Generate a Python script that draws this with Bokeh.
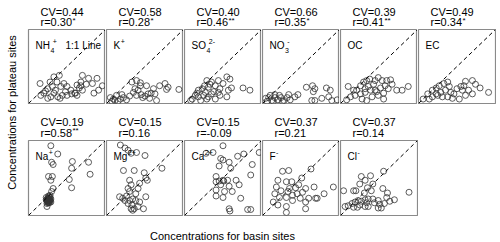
from math import pi
from bokeh.plotting import figure
from bokeh.models import Range1d, Label, Slope
from bokeh.layouts import row, column
from bokeh.embed import file_html
from bokeh.resources import INLINE

# ---------------- data (relative concentrations, 0-1 of panel range) ----------------
species_base = ["NH", "K", "SO", "NO", "OC", "EC", "Na", "Mg", "Ca", "F", "Cl"]
species_sub = ["4", "", "4", "3", "", "", "", "", "", "", ""]
species_sup = ["+", "+", "2-", "-", "", "", "+", "2+", "2+", "-", "-"]
cv_values = ["0.44", "0.58", "0.40", "0.66", "0.39", "0.49", "0.19", "0.15", "0.15", "0.37", "0.37"]
r_values = ["0.30", "0.28", "0.46", "0.35", "0.41", "0.34", "0.58", "0.16", "-0.09", "0.21", "0.14"]
r_stars = ["*", "*", "**", "*", "**", "*", "**", "", "", "", ""]

basin_nh4 = [.15,.28,.33,.40,.25,.31,.35,.42,.46,.50,.55,.61,.66,.68,.70,.78,.89,.83,.96,.91,
             .85,.16,.20,.25,.29,.33,.38,.41,.44,.48,.56,.60,.70,.68,.75,.22,.37,.63,.50,.63]
plateau_nh4 = [.27,.29,.36,.38,.20,.23,.18,.23,.27,.23,.18,.14,.21,.24,.18,.34,.34,.27,.24,.18,
               .14,.11,.14,.07,.09,.14,.09,.07,.11,.16,.13,.14,.38,.29,.26,.17,.29,.11,.11,.25]

basin_k = [.33,.37,.44,.52,.61,.69,.76,.78,.94,.80,.39,.47,.56,.65,.54,.35,.41,.63,
           .05,.09,.13,.18,.11,.22,.07,.15,.20,.26,.39,.44,.45,.50,.58,.30]
plateau_k = [.29,.20,.24,.24,.20,.24,.27,.19,.19,.22,.11,.08,.07,.04,.13,.15,.18,.13,
             .08,.06,.11,.06,.04,.08,.03,.03,.12,.05,.31,.28,.12,.10,.14,.10]

basin_so4 = [.29,.35,.44,.55,.59,.50,.40,.46,.57,.61,.38,.46,.55,.76,.85,.18,.23,.27,.31,.14,
             .10,.18,.25,.31,.35,.21,.16,.29,.40,.44,.08,.33,.26]
plateau_so4 = [.31,.29,.31,.36,.33,.27,.24,.20,.18,.21,.16,.11,.09,.21,.18,.18,.20,.15,.22,.11,
               .06,.09,.11,.09,.13,.04,.14,.06,.06,.15,.04,.26,.24]

basin_no3 = [.04,.08,.12,.16,.20,.24,.28,.32,.36,.10,.22,.42,.34,.46,.16,.57,.65,.68,.66,.68,
             .77,.90,.86,.64,.88,.83,.06,.14,.26,.97]
plateau_no3 = [.07,.08,.04,.08,.05,.08,.04,.08,.05,.11,.11,.09,.12,.12,.12,.22,.24,.20,.16,.04,
               .07,.04,.09,.04,.18,.21,.03,.03,.03,.05]

basin_oc = [.10,.17,.26,.30,.34,.38,.45,.49,.54,.60,.65,.73,.80,.88,.58,.52,.45,.39,.32,.26,
            .19,.13,.08,.28,.41,.49,.56,.62,.67,.36,.43,.32,.47,.21,.34,.56]
plateau_oc = [.23,.18,.24,.29,.31,.33,.31,.35,.31,.31,.32,.18,.18,.23,.24,.21,.18,.18,.15,.13,
              .11,.09,.05,.06,.09,.11,.14,.20,.26,.23,.26,.20,.16,.18,.04,.06]

basin_ec = [.12,.18,.23,.27,.33,.38,.35,.42,.46,.50,.55,.59,.61,.70,.74,.80,.91,.65,.70,.61,
            .57,.53,.31,.25,.18,.14,.06,.38,.44,.29,.40,.23]
plateau_ec = [.13,.18,.21,.24,.27,.29,.18,.15,.13,.20,.23,.24,.30,.31,.26,.21,.15,.18,.13,.11,
              .18,.06,.09,.11,.09,.06,.06,.09,.07,.15,.23,.13]

basin_na = [.29,.38,.30,.32,.57,.78,.56,.80,.26,.31,.29,.53,.56,.32,.30,.28,
            .23,.25,.27,.29,.24,.26,.28,.25,.27,.23,.26,.28,.24,.26,.29,.27,.24,
            .25,.26,.27,.28,.25,.26,.27,.24,.26,.25]
plateau_na = [.93,.82,.71,.68,.72,.71,.63,.55,.52,.52,.47,.48,.37,.36,.32,.27,
              .24,.22,.20,.18,.16,.26,.24,.19,.17,.21,.23,.21,.19,.17,.22,.25,.12,
              .20,.18,.22,.19,.23,.21,.20,.21,.19,.17]

basin_mg = [.18,.24,.28,.32,.39,.50,.72,.22,.36,.49,.51,.53,.30,.32,.43,.28,.41,.30,.38,.51,
            .17,.21,.26,.24,.30,.34,.38,.28,.33,.36,.32,.41,.48,.34,.43]
plateau_mg = [.94,.90,.87,.83,.84,.80,.63,.60,.60,.57,.50,.47,.47,.41,.43,.36,.36,.32,.29,.25,
              .25,.23,.26,.20,.20,.22,.20,.16,.14,.09,.09,.12,.09,.07,.18]

basin_ca = [.50,.28,.37,.47,.50,.69,.77,.97,.58,.60,.45,.88,.86,.41,.50,.45,.51,.56,.41,.67,
            .71,.58,.47,.41,.52,.62,.41,.50,.73,.58,.59,.82,.86]
plateau_ca = [.93,.83,.84,.76,.74,.79,.82,.84,.71,.63,.66,.68,.54,.52,.47,.46,.46,.47,.45,.47,
              .41,.39,.41,.34,.32,.32,.26,.24,.23,.09,.06,.08,.08]

basin_f = [.26,.34,.63,.20,.31,.38,.47,.51,.43,.56,.67,.80,.92,.18,.24,.33,.16,.22,.31,.39,
           .45,.52,.60,.56,.69,.71,.39,.14,.20,.31,.31,.56,.49,.35]
plateau_f = [.59,.60,.62,.47,.45,.45,.41,.50,.37,.36,.38,.29,.38,.38,.33,.32,.29,.24,.24,.27,
             .29,.31,.23,.18,.23,.23,.20,.18,.14,.12,.04,.09,.23,.36]

basin_cl = [.56,.27,.39,.32,.25,.42,.17,.20,.35,.31,.40,.55,.61,.60,.70,.64,.89,.49,.51,.53,
            .49,.42,.36,.32,.27,.23,.19,.15,.10,.06,.25,.32,.36,.17,.22,.04,.44,.57,.34]
plateau_cl = [.59,.52,.53,.47,.42,.42,.33,.33,.37,.30,.33,.36,.30,.24,.21,.19,.31,.20,.15,.10,
              .10,.22,.22,.21,.19,.20,.18,.16,.13,.12,.14,.12,.12,.11,.11,.33,.17,.16,.17]

basin_all = [basin_nh4, basin_k, basin_so4, basin_no3, basin_oc, basin_ec,
             basin_na, basin_mg, basin_ca, basin_f, basin_cl]
plateau_all = [plateau_nh4, plateau_k, plateau_so4, plateau_no3, plateau_oc, plateau_ec,
               plateau_na, plateau_mg, plateau_ca, plateau_f, plateau_cl]

# ---------------- styling ----------------
FONT = "Liberation Sans"
MAIN = 11
LAB = 10
SMALL = 7
AW = {'N': 722, 'H': 722, 'K': 667, 'S': 667, 'O': 778, 'C': 722, 'E': 667, 'a': 556,
      'M': 833, 'g': 556, 'F': 611, 'l': 222, '+': 584, '-': 333, 'r': 333, '=': 584,
      '.': 278, 'V': 667, '*': 389, ' ': 278, 'L': 556, 'i': 222, 'n': 556, 'e': 556, ':': 278}


def tw(s, px):
    return sum(AW.get(c, 556) for c in s) * px / 1000.0


def txt(p, text, x, y, size, xo=0, yo=0, **kw):
    # y / yo give the vertical centre of the text line
    p.add_layout(Label(x=x, y=y, x_offset=xo, y_offset=yo, text=text,
                       text_font=FONT, text_font_size=f"{size}px", text_color="black",
                       text_baseline="middle", text_align="left", **kw))


def blank(width, height, xr, yr, left=0, right=0, top=0, bottom=0):
    p = figure(width=width, height=height, x_range=xr, y_range=yr,
               output_backend="svg", toolbar_location=None,
               x_axis_location=None, y_axis_location=None,
               min_border_left=left, min_border_right=right,
               min_border_top=top, min_border_bottom=bottom)
    p.grid.visible = False
    p.outline_line_color = None
    p.background_fill_color = "white"
    p.border_fill_color = "white"
    return p


def header(i, h, cv_y, r_y, last):
    w = 78 + (1 if last else 0)
    p = blank(w, h, Range1d(0, 1), Range1d(0, h), left=1, right=1 if last else 0)
    txt(p, "CV=" + cv_values[i], 0, cv_y, MAIN, xo=12)
    rt = "r=" + r_values[i]
    txt(p, rt, 0, r_y, MAIN, xo=12)
    if r_stars[i]:
        txt(p, r_stars[i], 0, r_y + 1.8, SMALL + 1, xo=12 + tw(rt, MAIN) + 0.5)
    return p


def body(i, h, last):
    w = 78 + (1 if last else 0)
    p = blank(w, h, Range1d(0, 1), Range1d(0, 1), left=1, right=1 if last else 0,
              top=1, bottom=1)
    p.outline_line_color = "#8a8a8a"
    p.outline_line_width = 1.2
    p.add_layout(Slope(gradient=1, y_intercept=0, line_color="black",
                       line_width=1, line_dash="4 3"))
    p.scatter(basin_all[i], plateau_all[i], marker="circle", size=6,
              fill_color=None, line_color="#333333", line_width=0.8)
    base = species_base[i]
    txt(p, base, 0, 1, LAB, xo=7, yo=-16.4)
    bw = tw(base, LAB)
    sw = 0
    if species_sub[i]:
        txt(p, species_sub[i], 0, 1, SMALL, xo=7 + bw + 0.5, yo=-20.5)
        sw = tw(species_sub[i], SMALL)
    if species_sup[i]:
        txt(p, species_sup[i], 0, 1, SMALL, xo=7 + bw + 0.5 + 0.6 * sw, yo=-11.5)
    if i == 0:
        txt(p, "1:1 Line", 0, 1, LAB, xo=37, yo=-15.6)
    return p


top_head = [header(i, 28, 17, 6.5, i == 5) for i in range(6)]
top_body = [body(i, 76, i == 5) for i in range(6)]
bot_head = [header(i, 35, 17.5, 7, i == 10) for i in range(6, 11)]
bot_body = [body(i, 77, i == 10) for i in range(6, 11)]

ylab = blank(27, 216, Range1d(0, 27), Range1d(0, 216))
ylab.add_layout(Label(x=11, y=104, angle=pi / 2, text="Concentrations for plateau sites",
                      text_font=FONT, text_font_size=f"{MAIN}px", text_color="black",
                      text_align="center", text_baseline="middle"))

xlab = blank(469, 26, Range1d(0, 469), Range1d(0, 26))
xlab.add_layout(Label(x=195, y=7, text="Concentrations for basin sites",
                      text_font=FONT, text_font_size=f"{MAIN}px", text_color="black",
                      text_align="center", text_baseline="middle"))

grid = column(row(*top_head), row(*top_body), row(*bot_head), row(*bot_body))
layout = column(row(ylab, grid), row(blank(27, 26, Range1d(0, 1), Range1d(0, 1)), xlab))

open("out.html", "w").write(file_html(layout, INLINE))
